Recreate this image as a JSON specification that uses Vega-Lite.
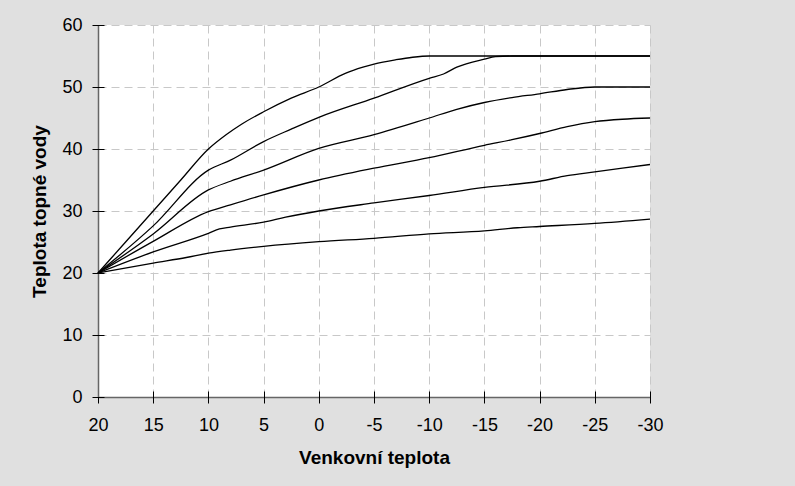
{
  "$schema": "https://vega.github.io/schema/vega-lite/v6.json",
  "width": 552,
  "height": 372,
  "autosize": {"type": "none"},
  "padding": {"left": 98, "top": 25, "right": 145, "bottom": 89},
  "background": "#e0e0e0",
  "config": {
    "view": {"stroke": null, "fill": "white"},
    "font": "Liberation Sans"
  },
  "data": {"values": [
    {"c": "A", "t": 20, "v": 20}, {"c": "A", "t": 17.5, "v": 25}, {"c": "A", "t": 15, "v": 30}, {"c": "A", "t": 12.5, "v": 35}, {"c": "A", "t": 10, "v": 40}, {"c": "A", "t": 8.4, "v": 42.3}, {"c": "A", "t": 7, "v": 44}, {"c": "A", "t": 5, "v": 46}, {"c": "A", "t": 2.5, "v": 48.2}, {"c": "A", "t": 0, "v": 50}, {"c": "A", "t": -2.4, "v": 52.2}, {"c": "A", "t": -4, "v": 53.2}, {"c": "A", "t": -5, "v": 53.7}, {"c": "A", "t": -7, "v": 54.4}, {"c": "A", "t": -8.5, "v": 54.8}, {"c": "A", "t": -10, "v": 55}, {"c": "A", "t": -30, "v": 55},
    {"c": "B", "t": 20, "v": 20}, {"c": "B", "t": 15, "v": 27.6}, {"c": "B", "t": 10, "v": 36.6}, {"c": "B", "t": 8, "v": 38.2}, {"c": "B", "t": 5, "v": 41.2}, {"c": "B", "t": 2.5, "v": 43.2}, {"c": "B", "t": 0, "v": 45.1}, {"c": "B", "t": -5, "v": 48.2}, {"c": "B", "t": -10, "v": 51.4}, {"c": "B", "t": -11.3, "v": 52.1}, {"c": "B", "t": -12.5, "v": 53.2}, {"c": "B", "t": -15, "v": 54.5}, {"c": "B", "t": -16, "v": 54.9}, {"c": "B", "t": -17.5, "v": 55}, {"c": "B", "t": -30, "v": 55},
    {"c": "C", "t": 20, "v": 20}, {"c": "C", "t": 15, "v": 26.3}, {"c": "C", "t": 10, "v": 33.4}, {"c": "C", "t": 8, "v": 34.8}, {"c": "C", "t": 5, "v": 36.6}, {"c": "C", "t": 0, "v": 40.1}, {"c": "C", "t": -5, "v": 42.3}, {"c": "C", "t": -10, "v": 45}, {"c": "C", "t": -12.5, "v": 46.4}, {"c": "C", "t": -15, "v": 47.5}, {"c": "C", "t": -17.5, "v": 48.3}, {"c": "C", "t": -20, "v": 48.9}, {"c": "C", "t": -22.5, "v": 49.6}, {"c": "C", "t": -25, "v": 50}, {"c": "C", "t": -30, "v": 50},
    {"c": "D", "t": 20, "v": 20}, {"c": "D", "t": 15, "v": 25.1}, {"c": "D", "t": 10, "v": 29.9}, {"c": "D", "t": 8, "v": 31}, {"c": "D", "t": 5, "v": 32.6}, {"c": "D", "t": 0, "v": 35}, {"c": "D", "t": -5, "v": 36.9}, {"c": "D", "t": -10, "v": 38.6}, {"c": "D", "t": -15, "v": 40.6}, {"c": "D", "t": -17.5, "v": 41.5}, {"c": "D", "t": -20, "v": 42.5}, {"c": "D", "t": -22.5, "v": 43.6}, {"c": "D", "t": -25, "v": 44.4}, {"c": "D", "t": -27.5, "v": 44.8}, {"c": "D", "t": -30, "v": 45},
    {"c": "E", "t": 20, "v": 20}, {"c": "E", "t": 15, "v": 23.4}, {"c": "E", "t": 10, "v": 26.4}, {"c": "E", "t": 9, "v": 27.1}, {"c": "E", "t": 8, "v": 27.4}, {"c": "E", "t": 5, "v": 28.2}, {"c": "E", "t": 3, "v": 29}, {"c": "E", "t": 0, "v": 30}, {"c": "E", "t": -5, "v": 31.3}, {"c": "E", "t": -10, "v": 32.5}, {"c": "E", "t": -15, "v": 33.8}, {"c": "E", "t": -20, "v": 34.8}, {"c": "E", "t": -22.5, "v": 35.7}, {"c": "E", "t": -25, "v": 36.3}, {"c": "E", "t": -30, "v": 37.5},
    {"c": "F", "t": 20, "v": 20}, {"c": "F", "t": 15, "v": 21.6}, {"c": "F", "t": 12, "v": 22.5}, {"c": "F", "t": 10, "v": 23.2}, {"c": "F", "t": 8, "v": 23.7}, {"c": "F", "t": 5, "v": 24.3}, {"c": "F", "t": 0, "v": 25.05}, {"c": "F", "t": -5, "v": 25.6}, {"c": "F", "t": -10, "v": 26.3}, {"c": "F", "t": -15, "v": 26.8}, {"c": "F", "t": -18, "v": 27.3}, {"c": "F", "t": -20, "v": 27.5}, {"c": "F", "t": -25, "v": 28}, {"c": "F", "t": -30, "v": 28.7}
  ]},
  "layer": [
    {
      "mark": {"type": "line", "color": "black", "strokeWidth": 1.3, "interpolate": "monotone"},
      "encoding": {
        "x": {
          "field": "t", "type": "quantitative",
          "scale": {"domain": [20, -30], "nice": false, "zero": false},
          "axis": {
            "orient": "bottom",
            "values": [20, 15, 10, 5, 0, -5, -10, -15, -20, -25, -30],
            "labelExpr": "'' + datum.value",
            "ticks": false,
            "labelPadding": 19,
            "labelFontSize": 18,
            "labelColor": "black",
            "labelFlush": false,
            "domainColor": "#666666",
            "domainWidth": 1.5,
            "grid": true,
            "gridColor": "#c8c8c8",
            "gridDash": [8, 5],
            "gridWidth": 1,
            "title": "Venkovní teplota",
            "titleFontSize": 19,
            "titleFontWeight": "bold",
            "titleColor": "black",
            "titlePadding": 14
          }
        },
        "y": {
          "field": "v", "type": "quantitative",
          "scale": {"domain": [0, 60], "nice": false},
          "axis": {
            "orient": "left",
            "values": [0, 10, 20, 30, 40, 50, 60],
            "labelExpr": "'' + datum.value",
            "ticks": false,
            "labelPadding": 16,
            "labelFontSize": 18,
            "labelColor": "black",
            "labelFlush": false,
            "domainColor": "#666666",
            "domainWidth": 1.5,
            "grid": true,
            "gridColor": "#c8c8c8",
            "gridDash": [8, 5],
            "gridWidth": 1,
            "title": "Teplota topné vody",
            "titleFontSize": 19,
            "titleFontWeight": "bold",
            "titleColor": "black",
            "titlePadding": 12
          }
        },
        "detail": {"field": "c", "type": "nominal"}
      }
    },
    {
      "mark": {"type": "point", "opacity": 0},
      "encoding": {
        "x": {
          "field": "t", "type": "quantitative",
          "scale": {"domain": [20, -30], "nice": false, "zero": false},
          "axis": {
            "orient": "bottom", "offset": -6, "tickSize": 12, "tickColor": "black", "tickWidth": 1,
            "values": [20, 15, 10, 5, 0, -5, -10, -15, -20, -25, -30],
            "labels": false, "domain": false, "grid": false, "title": null
          }
        },
        "y": {
          "field": "v", "type": "quantitative",
          "scale": {"domain": [0, 60], "nice": false},
          "axis": {
            "orient": "left", "offset": -6, "tickSize": 12, "tickColor": "black", "tickWidth": 1,
            "values": [0, 10, 20, 30, 40, 50, 60],
            "labels": false, "domain": false, "grid": false, "title": null
          }
        }
      }
    }
  ],
  "resolve": {"axis": {"x": "independent", "y": "independent"}}
}
